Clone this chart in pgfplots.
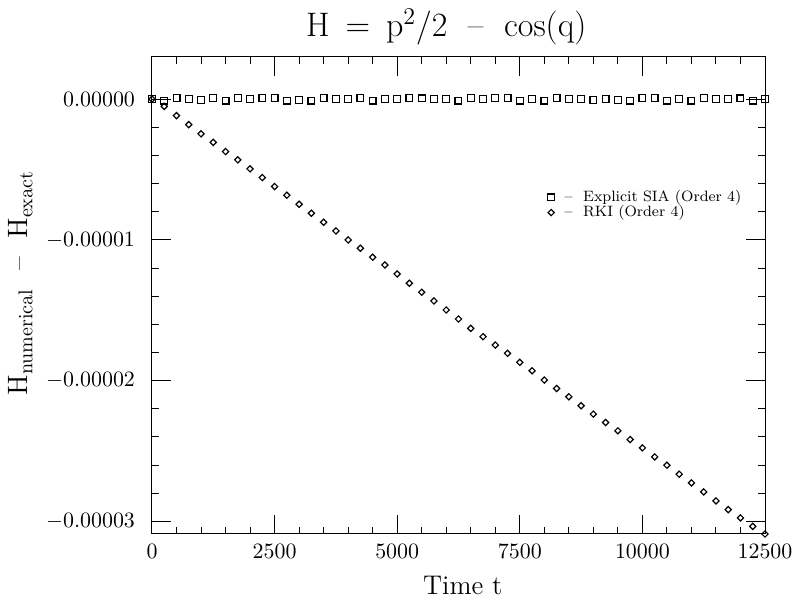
\documentclass[border=0pt]{standalone}
\usepackage{pgfplots}
\pgfplotsset{compat=1.18}
\usepackage{pgfplotstable}

\pgfplotsset{myleg/.style={legend image code/.code={\draw[##1] plot coordinates {(0.1cm,0cm)};}}}

\pgfplotstableread{
t y
0 0
250 -1.0e-7
500 1.0e-7
750 0
1000 -0.5e-7
1250 1.0e-7
1500 -1.0e-7
1750 1.0e-7
2000 0
2250 1.0e-7
2500 1.0e-7
2750 -1.0e-7
3000 -0.5e-7
3250 -1.0e-7
3500 1.0e-7
3750 0
4000 0
4250 1.0e-7
4500 -1.0e-7
4750 0
5000 0
5250 1.0e-7
5500 0.5e-7
5750 0
6000 0
6250 -1.0e-7
6500 1.0e-7
6750 0
7000 1.0e-7
7250 1.0e-7
7500 -1.0e-7
7750 0
8000 -1.0e-7
8250 1.0e-7
8500 0
8750 0
9000 -0.5e-7
9250 0
9500 -0.5e-7
9750 -1.0e-7
10000 1.0e-7
10250 1.0e-7
10500 -1.0e-7
10750 0
11000 -1.0e-7
11250 1.0e-7
11500 0
11750 0
12000 0.5e-7
12250 -1.0e-7
12500 0
}\sia

\pgfplotstableread{
t y
0 0
250 -0.051e-5
500 -0.117e-5
750 -0.181e-5
1000 -0.246e-5
1250 -0.307e-5
1500 -0.372e-5
1750 -0.431e-5
2000 -0.495e-5
2250 -0.557e-5
2500 -0.621e-5
2750 -0.682e-5
3000 -0.746e-5
3250 -0.810e-5
3500 -0.874e-5
3750 -0.936e-5
4000 -1.000e-5
4250 -1.059e-5
4500 -1.123e-5
4750 -1.178e-5
5000 -1.242e-5
5250 -1.308e-5
5500 -1.372e-5
5750 -1.434e-5
6000 -1.498e-5
6250 -1.562e-5
6500 -1.629e-5
6750 -1.688e-5
7000 -1.747e-5
7250 -1.806e-5
7500 -1.870e-5
7750 -1.930e-5
8000 -1.996e-5
8250 -2.056e-5
8500 -2.115e-5
8750 -2.179e-5
9000 -2.238e-5
9250 -2.298e-5
9500 -2.357e-5
9750 -2.419e-5
10000 -2.478e-5
10250 -2.542e-5
10500 -2.601e-5
10750 -2.665e-5
11000 -2.727e-5
11250 -2.791e-5
11500 -2.855e-5
11750 -2.917e-5
12000 -2.976e-5
12250 -3.036e-5
12500 -3.090e-5
}\rki

\begin{document}
\begin{tikzpicture}
\begin{axis}[
  at={(0,0)}, anchor=south west,
  scale only axis,
  width=306.5pt, height=238.5pt,
  xmin=0, xmax=12500,
  ymin=-3.09e-5, ymax=0.3e-5,
  axis line style={line width=0.5pt},
  tick style={black, line width=0.5pt},
  tick align=inside,
  major tick length=9.5pt,
  minor tick length=3.5pt,
  xtick={0,2500,5000,7500,10000,12500},
  minor x tick num=4,
  ytick={-3e-5,-2e-5,-1e-5,0},
  minor y tick num=4,
  scaled x ticks=false,
  scaled y ticks=false,
  xticklabel style={/pgf/number format/fixed, /pgf/number format/1000 sep={}, font=\fontsize{10.5}{12}\selectfont, yshift=-1.5pt},
  yticklabel style={/pgf/number format/fixed, /pgf/number format/fixed zerofill, /pgf/number format/precision=5, font=\fontsize{10.5}{12}\selectfont, xshift=-5pt},
  title={H \,=\, p$^{2}$/2 \ -- \ cos(q)},
  title style={at={(rel axis cs:0.48,1)}, anchor=base, yshift=4pt, font=\fontsize{17}{20}\selectfont},
  xlabel={Time t},
  xlabel style={at={(rel axis cs:0.507,0)}, anchor=base, yshift=-30.5pt, font=\fontsize{13.5}{16}\selectfont},
  ylabel={H$_{\mathrm{numerical}}$ \ -- \ H$_{\mathrm{exact}}$},
  ylabel style={at={([xshift=-62pt]rel axis cs:0,0.526)}, anchor=base, font=\fontsize{14}{17}\selectfont},
  legend style={draw=none, fill=none, at={(rel axis cs:0.645,0.73)}, anchor=north west,
    font=\fontsize{7.5}{9}\selectfont, row sep=-3.5pt, inner sep=0pt},
  legend cell align=left,
]
\addplot[only marks, mark=square, mark size=1.7pt, mark options={line width=0.6pt, black}, myleg]
  table[x=t, y=y] {\sia};
\addlegendentry{\hspace{3pt}-- \ Explicit SIA (Order 4)}
\addplot[only marks, mark=square, mark size=1.1pt, mark options={rotate=45, line width=0.6pt, black}, myleg]
  table[x=t, y=y] {\rki};
\addlegendentry{\hspace{3pt}-- \ RKI (Order 4)}
\end{axis}
\pgfresetboundingbox
\path (-76pt,-35pt) rectangle (320.5pt,267pt);
\end{tikzpicture}
\end{document}
